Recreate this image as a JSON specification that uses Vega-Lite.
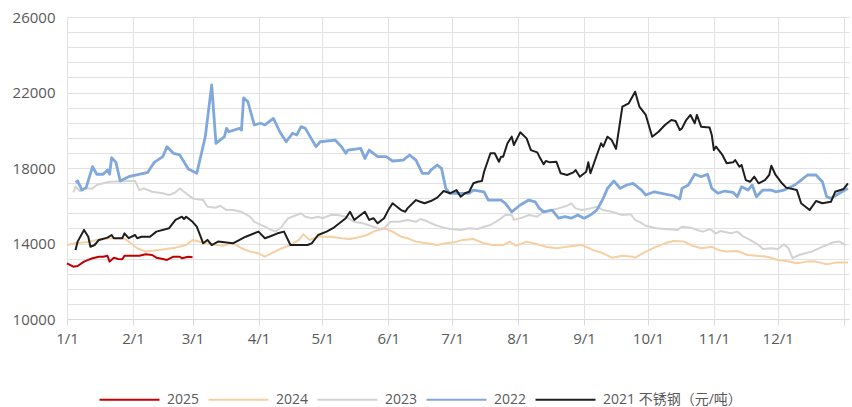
{
  "$schema": "https://vega.github.io/schema/vega-lite/v6.json",
  "width": 782,
  "height": 302,
  "autosize": {"type": "none"},
  "padding": {"left": 67, "top": 17, "right": 3, "bottom": 88},
  "background": "white",
  "config": {
    "view": {"stroke": null},
    "font": "Open Sans, Noto Sans CJK SC",
    "axis": {"labelColor": "#595959", "labelFontSize": 15, "labelFont": "Open Sans, Noto Sans CJK SC", "gridColor": "#e2e2e2", "gridWidth": 1, "title": null},
    "legend": {"labelColor": "#595959", "labelFontSize": 14, "labelFont": "Open Sans, Noto Sans CJK SC"}
  },
  "data": {"values": [
{"s":"2025","d":1,"v":12950},{"s":"2025","d":4,"v":12770},{"s":"2025","d":6,"v":12810},{"s":"2025","d":9,"v":13040},{"s":"2025","d":11,"v":13130},{"s":"2025","d":13,"v":13220},{"s":"2025","d":16,"v":13300},{"s":"2025","d":18,"v":13300},{"s":"2025","d":20,"v":13350},{"s":"2025","d":21,"v":13040},{"s":"2025","d":23,"v":13250},{"s":"2025","d":25,"v":13180},{"s":"2025","d":27,"v":13160},{"s":"2025","d":28,"v":13350},{"s":"2025","d":35,"v":13350},{"s":"2025","d":38,"v":13430},{"s":"2025","d":41,"v":13390},{"s":"2025","d":43,"v":13250},{"s":"2025","d":46,"v":13180},{"s":"2025","d":48,"v":13130},{"s":"2025","d":51,"v":13300},{"s":"2025","d":54,"v":13300},{"s":"2025","d":55,"v":13220},{"s":"2025","d":58,"v":13300},{"s":"2025","d":60,"v":13270},
{"s":"2024","d":1,"v":13920},{"s":"2024","d":5,"v":14010},{"s":"2024","d":10,"v":14060},{"s":"2024","d":15,"v":14190},{"s":"2024","d":21,"v":14280},{"s":"2024","d":27,"v":14280},{"s":"2024","d":29,"v":14190},{"s":"2024","d":31,"v":14010},{"s":"2024","d":34,"v":13750},{"s":"2024","d":38,"v":13570},{"s":"2024","d":44,"v":13660},{"s":"2024","d":52,"v":13780},{"s":"2024","d":57,"v":13920},{"s":"2024","d":60,"v":14190},{"s":"2024","d":62,"v":14130},{"s":"2024","d":66,"v":14010},{"s":"2024","d":69,"v":13960},{"s":"2024","d":74,"v":13880},{"s":"2024","d":79,"v":14010},{"s":"2024","d":83,"v":13750},{"s":"2024","d":87,"v":13570},{"s":"2024","d":91,"v":13480},{"s":"2024","d":94,"v":13300},{"s":"2024","d":97,"v":13480},{"s":"2024","d":102,"v":13750},{"s":"2024","d":106,"v":13920},{"s":"2024","d":110,"v":14190},{"s":"2024","d":112,"v":14490},{"s":"2024","d":115,"v":14190},{"s":"2024","d":119,"v":14360},{"s":"2024","d":125,"v":14360},{"s":"2024","d":130,"v":14280},{"s":"2024","d":134,"v":14240},{"s":"2024","d":139,"v":14360},{"s":"2024","d":142,"v":14450},{"s":"2024","d":145,"v":14630},{"s":"2024","d":149,"v":14770},{"s":"2024","d":151,"v":14770},{"s":"2024","d":154,"v":14630},{"s":"2024","d":158,"v":14360},{"s":"2024","d":161,"v":14280},{"s":"2024","d":165,"v":14100},{"s":"2024","d":170,"v":14010},{"s":"2024","d":175,"v":13920},{"s":"2024","d":179,"v":14010},{"s":"2024","d":183,"v":14060},{"s":"2024","d":187,"v":14190},{"s":"2024","d":192,"v":14240},{"s":"2024","d":197,"v":14010},{"s":"2024","d":201,"v":13920},{"s":"2024","d":206,"v":13920},{"s":"2024","d":209,"v":14100},{"s":"2024","d":212,"v":13880},{"s":"2024","d":217,"v":14100},{"s":"2024","d":222,"v":13960},{"s":"2024","d":226,"v":13830},{"s":"2024","d":231,"v":13750},{"s":"2024","d":236,"v":13830},{"s":"2024","d":240,"v":13880},{"s":"2024","d":243,"v":13920},{"s":"2024","d":248,"v":13660},{"s":"2024","d":253,"v":13480},{"s":"2024","d":257,"v":13250},{"s":"2024","d":262,"v":13350},{"s":"2024","d":267,"v":13300},{"s":"2024","d":268,"v":13250},{"s":"2024","d":273,"v":13570},{"s":"2024","d":278,"v":13830},{"s":"2024","d":282,"v":14010},{"s":"2024","d":286,"v":14130},{"s":"2024","d":291,"v":14100},{"s":"2024","d":295,"v":13880},{"s":"2024","d":299,"v":13750},{"s":"2024","d":304,"v":13830},{"s":"2024","d":307,"v":13660},{"s":"2024","d":311,"v":13570},{"s":"2024","d":316,"v":13600},{"s":"2024","d":321,"v":13390},{"s":"2024","d":325,"v":13350},{"s":"2024","d":330,"v":13300},{"s":"2024","d":335,"v":13130},{"s":"2024","d":339,"v":13070},{"s":"2024","d":344,"v":12950},{"s":"2024","d":349,"v":13040},{"s":"2024","d":353,"v":13040},{"s":"2024","d":358,"v":12900},{"s":"2024","d":363,"v":13000},{"s":"2024","d":368,"v":13000},
{"s":"2023","d":4,"v":16710},{"s":"2023","d":5,"v":17010},{"s":"2023","d":7,"v":16780},{"s":"2023","d":10,"v":16920},{"s":"2023","d":13,"v":16920},{"s":"2023","d":15,"v":17100},{"s":"2023","d":18,"v":17190},{"s":"2023","d":21,"v":17270},{"s":"2023","d":31,"v":17310},{"s":"2023","d":33,"v":17310},{"s":"2023","d":35,"v":16830},{"s":"2023","d":37,"v":16920},{"s":"2023","d":41,"v":16740},{"s":"2023","d":46,"v":16660},{"s":"2023","d":49,"v":16570},{"s":"2023","d":52,"v":16710},{"s":"2023","d":54,"v":16920},{"s":"2023","d":56,"v":16740},{"s":"2023","d":60,"v":16390},{"s":"2023","d":65,"v":16300},{"s":"2023","d":67,"v":15950},{"s":"2023","d":71,"v":15900},{"s":"2023","d":73,"v":16000},{"s":"2023","d":76,"v":15770},{"s":"2023","d":79,"v":15770},{"s":"2023","d":83,"v":15680},{"s":"2023","d":87,"v":15420},{"s":"2023","d":89,"v":15150},{"s":"2023","d":94,"v":14890},{"s":"2023","d":97,"v":14720},{"s":"2023","d":99,"v":14630},{"s":"2023","d":102,"v":14890},{"s":"2023","d":103,"v":15070},{"s":"2023","d":105,"v":15340},{"s":"2023","d":108,"v":15470},{"s":"2023","d":111,"v":15600},{"s":"2023","d":113,"v":15420},{"s":"2023","d":116,"v":15340},{"s":"2023","d":119,"v":15420},{"s":"2023","d":121,"v":15340},{"s":"2023","d":125,"v":15510},{"s":"2023","d":128,"v":15510},{"s":"2023","d":132,"v":15420},{"s":"2023","d":136,"v":15150},{"s":"2023","d":140,"v":15070},{"s":"2023","d":145,"v":14890},{"s":"2023","d":148,"v":14770},{"s":"2023","d":150,"v":14810},{"s":"2023","d":153,"v":15150},{"s":"2023","d":157,"v":15150},{"s":"2023","d":161,"v":15250},{"s":"2023","d":165,"v":15150},{"s":"2023","d":167,"v":15300},{"s":"2023","d":170,"v":15190},{"s":"2023","d":174,"v":14980},{"s":"2023","d":178,"v":14840},{"s":"2023","d":181,"v":14770},{"s":"2023","d":186,"v":14720},{"s":"2023","d":190,"v":14810},{"s":"2023","d":194,"v":14770},{"s":"2023","d":197,"v":14890},{"s":"2023","d":200,"v":14980},{"s":"2023","d":204,"v":15250},{"s":"2023","d":207,"v":15510},{"s":"2023","d":210,"v":15510},{"s":"2023","d":211,"v":15250},{"s":"2023","d":215,"v":15370},{"s":"2023","d":218,"v":15510},{"s":"2023","d":222,"v":15420},{"s":"2023","d":225,"v":15680},{"s":"2023","d":229,"v":15770},{"s":"2023","d":232,"v":15860},{"s":"2023","d":236,"v":16000},{"s":"2023","d":238,"v":16130},{"s":"2023","d":240,"v":15860},{"s":"2023","d":243,"v":15770},{"s":"2023","d":247,"v":15860},{"s":"2023","d":250,"v":15950},{"s":"2023","d":253,"v":15770},{"s":"2023","d":257,"v":15680},{"s":"2023","d":262,"v":15510},{"s":"2023","d":266,"v":15550},{"s":"2023","d":268,"v":15250},{"s":"2023","d":270,"v":15150},{"s":"2023","d":273,"v":14940},{"s":"2023","d":278,"v":14810},{"s":"2023","d":282,"v":14770},{"s":"2023","d":288,"v":14720},{"s":"2023","d":290,"v":14890},{"s":"2023","d":294,"v":14840},{"s":"2023","d":297,"v":14720},{"s":"2023","d":300,"v":14630},{"s":"2023","d":303,"v":14770},{"s":"2023","d":306,"v":14540},{"s":"2023","d":308,"v":14660},{"s":"2023","d":313,"v":14540},{"s":"2023","d":316,"v":14630},{"s":"2023","d":319,"v":14360},{"s":"2023","d":322,"v":14190},{"s":"2023","d":326,"v":13920},{"s":"2023","d":328,"v":13710},{"s":"2023","d":332,"v":13750},{"s":"2023","d":335,"v":13710},{"s":"2023","d":338,"v":13960},{"s":"2023","d":340,"v":13750},{"s":"2023","d":342,"v":13220},{"s":"2023","d":345,"v":13390},{"s":"2023","d":348,"v":13480},{"s":"2023","d":351,"v":13570},{"s":"2023","d":355,"v":13780},{"s":"2023","d":358,"v":13920},{"s":"2023","d":361,"v":14060},{"s":"2023","d":364,"v":14100},{"s":"2023","d":367,"v":13920},
{"s":"2022","d":5,"v":17240},{"s":"2022","d":6,"v":17310},{"s":"2022","d":8,"v":16830},{"s":"2022","d":10,"v":16960},{"s":"2022","d":13,"v":18070},{"s":"2022","d":15,"v":17670},{"s":"2022","d":18,"v":17670},{"s":"2022","d":20,"v":17890},{"s":"2022","d":21,"v":17670},{"s":"2022","d":22,"v":18550},{"s":"2022","d":24,"v":18300},{"s":"2022","d":26,"v":17310},{"s":"2022","d":30,"v":17540},{"s":"2022","d":39,"v":17770},{"s":"2022","d":42,"v":18300},{"s":"2022","d":46,"v":18600},{"s":"2022","d":48,"v":19130},{"s":"2022","d":51,"v":18780},{"s":"2022","d":54,"v":18690},{"s":"2022","d":58,"v":17950},{"s":"2022","d":62,"v":17720},{"s":"2022","d":66,"v":19660},{"s":"2022","d":69,"v":22400},{"s":"2022","d":71,"v":19310},{"s":"2022","d":75,"v":19660},{"s":"2022","d":76,"v":20100},{"s":"2022","d":77,"v":19920},{"s":"2022","d":82,"v":20100},{"s":"2022","d":83,"v":20010},{"s":"2022","d":84,"v":21720},{"s":"2022","d":86,"v":21510},{"s":"2022","d":89,"v":20280},{"s":"2022","d":92,"v":20370},{"s":"2022","d":94,"v":20280},{"s":"2022","d":98,"v":20630},{"s":"2022","d":101,"v":19920},{"s":"2022","d":104,"v":19390},{"s":"2022","d":107,"v":19840},{"s":"2022","d":109,"v":19750},{"s":"2022","d":111,"v":20190},{"s":"2022","d":113,"v":20100},{"s":"2022","d":118,"v":19130},{"s":"2022","d":120,"v":19390},{"s":"2022","d":127,"v":19480},{"s":"2022","d":130,"v":19130},{"s":"2022","d":132,"v":18780},{"s":"2022","d":133,"v":18950},{"s":"2022","d":139,"v":19040},{"s":"2022","d":141,"v":18510},{"s":"2022","d":143,"v":18950},{"s":"2022","d":147,"v":18600},{"s":"2022","d":151,"v":18600},{"s":"2022","d":154,"v":18370},{"s":"2022","d":159,"v":18420},{"s":"2022","d":162,"v":18690},{"s":"2022","d":165,"v":18420},{"s":"2022","d":168,"v":17720},{"s":"2022","d":171,"v":17720},{"s":"2022","d":172,"v":17890},{"s":"2022","d":175,"v":18160},{"s":"2022","d":177,"v":17980},{"s":"2022","d":179,"v":16920},{"s":"2022","d":181,"v":16660},{"s":"2022","d":190,"v":16660},{"s":"2022","d":192,"v":16830},{"s":"2022","d":197,"v":16740},{"s":"2022","d":199,"v":16300},{"s":"2022","d":205,"v":16300},{"s":"2022","d":207,"v":16130},{"s":"2022","d":210,"v":15680},{"s":"2022","d":214,"v":16040},{"s":"2022","d":218,"v":16300},{"s":"2022","d":221,"v":16210},{"s":"2022","d":223,"v":15860},{"s":"2022","d":225,"v":15680},{"s":"2022","d":229,"v":15770},{"s":"2022","d":232,"v":15340},{"s":"2022","d":235,"v":15420},{"s":"2022","d":238,"v":15340},{"s":"2022","d":241,"v":15510},{"s":"2022","d":244,"v":15340},{"s":"2022","d":247,"v":15510},{"s":"2022","d":250,"v":15770},{"s":"2022","d":253,"v":16390},{"s":"2022","d":255,"v":16920},{"s":"2022","d":258,"v":17310},{"s":"2022","d":261,"v":16920},{"s":"2022","d":264,"v":17100},{"s":"2022","d":267,"v":17190},{"s":"2022","d":271,"v":16830},{"s":"2022","d":273,"v":16570},{"s":"2022","d":277,"v":16740},{"s":"2022","d":286,"v":16530},{"s":"2022","d":289,"v":16360},{"s":"2022","d":290,"v":16920},{"s":"2022","d":293,"v":17100},{"s":"2022","d":296,"v":17670},{"s":"2022","d":299,"v":17540},{"s":"2022","d":302,"v":17670},{"s":"2022","d":304,"v":16920},{"s":"2022","d":307,"v":16660},{"s":"2022","d":310,"v":16780},{"s":"2022","d":314,"v":16710},{"s":"2022","d":316,"v":16480},{"s":"2022","d":318,"v":17010},{"s":"2022","d":321,"v":16830},{"s":"2022","d":323,"v":17100},{"s":"2022","d":325,"v":16480},{"s":"2022","d":328,"v":16830},{"s":"2022","d":332,"v":16830},{"s":"2022","d":334,"v":16740},{"s":"2022","d":338,"v":16830},{"s":"2022","d":343,"v":17100},{"s":"2022","d":346,"v":17360},{"s":"2022","d":349,"v":17630},{"s":"2022","d":353,"v":17630},{"s":"2022","d":356,"v":17270},{"s":"2022","d":358,"v":16480},{"s":"2022","d":360,"v":16390},{"s":"2022","d":364,"v":16660},{"s":"2022","d":368,"v":16920},
{"s":"2021","d":5,"v":13660},{"s":"2021","d":6,"v":14100},{"s":"2021","d":9,"v":14720},{"s":"2021","d":11,"v":14360},{"s":"2021","d":12,"v":13830},{"s":"2021","d":14,"v":13920},{"s":"2021","d":16,"v":14190},{"s":"2021","d":20,"v":14310},{"s":"2021","d":22,"v":14450},{"s":"2021","d":23,"v":14280},{"s":"2021","d":27,"v":14280},{"s":"2021","d":28,"v":14540},{"s":"2021","d":30,"v":14280},{"s":"2021","d":33,"v":14450},{"s":"2021","d":34,"v":14280},{"s":"2021","d":36,"v":14360},{"s":"2021","d":40,"v":14360},{"s":"2021","d":43,"v":14630},{"s":"2021","d":49,"v":14810},{"s":"2021","d":52,"v":15250},{"s":"2021","d":55,"v":15420},{"s":"2021","d":56,"v":15300},{"s":"2021","d":57,"v":15420},{"s":"2021","d":60,"v":15150},{"s":"2021","d":62,"v":14890},{"s":"2021","d":65,"v":14010},{"s":"2021","d":67,"v":14190},{"s":"2021","d":69,"v":13920},{"s":"2021","d":72,"v":14100},{"s":"2021","d":79,"v":14010},{"s":"2021","d":85,"v":14360},{"s":"2021","d":91,"v":14630},{"s":"2021","d":94,"v":14280},{"s":"2021","d":96,"v":14360},{"s":"2021","d":100,"v":14540},{"s":"2021","d":103,"v":14630},{"s":"2021","d":106,"v":13920},{"s":"2021","d":114,"v":13920},{"s":"2021","d":116,"v":14010},{"s":"2021","d":119,"v":14450},{"s":"2021","d":123,"v":14630},{"s":"2021","d":126,"v":14810},{"s":"2021","d":129,"v":15070},{"s":"2021","d":132,"v":15340},{"s":"2021","d":134,"v":15680},{"s":"2021","d":136,"v":15250},{"s":"2021","d":137,"v":15340},{"s":"2021","d":139,"v":15510},{"s":"2021","d":141,"v":15680},{"s":"2021","d":143,"v":15250},{"s":"2021","d":145,"v":15340},{"s":"2021","d":147,"v":15070},{"s":"2021","d":150,"v":15340},{"s":"2021","d":152,"v":15770},{"s":"2021","d":154,"v":16130},{"s":"2021","d":158,"v":15770},{"s":"2021","d":160,"v":15680},{"s":"2021","d":161,"v":15860},{"s":"2021","d":165,"v":16300},{"s":"2021","d":167,"v":16210},{"s":"2021","d":169,"v":16130},{"s":"2021","d":172,"v":16250},{"s":"2021","d":175,"v":16430},{"s":"2021","d":178,"v":16780},{"s":"2021","d":181,"v":16660},{"s":"2021","d":184,"v":16830},{"s":"2021","d":186,"v":16480},{"s":"2021","d":188,"v":16660},{"s":"2021","d":190,"v":16740},{"s":"2021","d":192,"v":17190},{"s":"2021","d":194,"v":17270},{"s":"2021","d":196,"v":17310},{"s":"2021","d":197,"v":17800},{"s":"2021","d":200,"v":18780},{"s":"2021","d":202,"v":18780},{"s":"2021","d":204,"v":18330},{"s":"2021","d":205,"v":18600},{"s":"2021","d":206,"v":18600},{"s":"2021","d":208,"v":19310},{"s":"2021","d":210,"v":19660},{"s":"2021","d":211,"v":19220},{"s":"2021","d":214,"v":19890},{"s":"2021","d":217,"v":19570},{"s":"2021","d":219,"v":18950},{"s":"2021","d":222,"v":18830},{"s":"2021","d":223,"v":18600},{"s":"2021","d":225,"v":18200},{"s":"2021","d":226,"v":18370},{"s":"2021","d":228,"v":18300},{"s":"2021","d":231,"v":18330},{"s":"2021","d":233,"v":17720},{"s":"2021","d":236,"v":17630},{"s":"2021","d":239,"v":17770},{"s":"2021","d":240,"v":17890},{"s":"2021","d":242,"v":17540},{"s":"2021","d":245,"v":17800},{"s":"2021","d":246,"v":18300},{"s":"2021","d":247,"v":17720},{"s":"2021","d":250,"v":18690},{"s":"2021","d":252,"v":19310},{"s":"2021","d":253,"v":19130},{"s":"2021","d":255,"v":19660},{"s":"2021","d":257,"v":19480},{"s":"2021","d":259,"v":19010},{"s":"2021","d":262,"v":21250},{"s":"2021","d":265,"v":21430},{"s":"2021","d":268,"v":22040},{"s":"2021","d":270,"v":21250},{"s":"2021","d":273,"v":20810},{"s":"2021","d":276,"v":19660},{"s":"2021","d":279,"v":19920},{"s":"2021","d":282,"v":20280},{"s":"2021","d":285,"v":20540},{"s":"2021","d":287,"v":20490},{"s":"2021","d":289,"v":20010},{"s":"2021","d":290,"v":20100},{"s":"2021","d":292,"v":20540},{"s":"2021","d":294,"v":20810},{"s":"2021","d":296,"v":20370},{"s":"2021","d":297,"v":20810},{"s":"2021","d":299,"v":20190},{"s":"2021","d":303,"v":20140},{"s":"2021","d":304,"v":19750},{"s":"2021","d":305,"v":18950},{"s":"2021","d":306,"v":19130},{"s":"2021","d":309,"v":18690},{"s":"2021","d":311,"v":18250},{"s":"2021","d":314,"v":18300},{"s":"2021","d":315,"v":18420},{"s":"2021","d":317,"v":18070},{"s":"2021","d":318,"v":18160},{"s":"2021","d":320,"v":17360},{"s":"2021","d":322,"v":17270},{"s":"2021","d":324,"v":17540},{"s":"2021","d":326,"v":17190},{"s":"2021","d":329,"v":17360},{"s":"2021","d":331,"v":17630},{"s":"2021","d":332,"v":18120},{"s":"2021","d":334,"v":17630},{"s":"2021","d":337,"v":17190},{"s":"2021","d":339,"v":16960},{"s":"2021","d":344,"v":16830},{"s":"2021","d":346,"v":16130},{"s":"2021","d":350,"v":15770},{"s":"2021","d":353,"v":16250},{"s":"2021","d":356,"v":16130},{"s":"2021","d":360,"v":16210},{"s":"2021","d":362,"v":16740},{"s":"2021","d":366,"v":16890},{"s":"2021","d":368,"v":17190}
  ]},
  "mark": {"type": "line", "strokeJoin": "round", "strokeCap": "butt", "interpolate": "linear"},
  "encoding": {
    "x": {
      "field": "d", "type": "quantitative",
      "scale": {"domain": [1, 368.5], "nice": false, "zero": false},
      "axis": {
        "values": [1, 32, 60, 91, 121, 152, 182, 213, 244, 274, 305, 335, 366],
        "labelExpr": "['1/1','2/1','3/1','4/1','5/1','6/1','7/1','8/1','9/1','10/1','11/1','12/1',''][indexof([1,32,60,91,121,152,182,213,244,274,305,335,366], datum.value)]",
        "grid": true, "domain": true, "domainColor": "#d9d9d9", "ticks": true, "tickColor": "#d9d9d9", "tickSize": 6,
        "labelPadding": 6, "labelFlush": false, "labelOverlap": false
      }
    },
    "y": {
      "field": "v", "type": "quantitative",
      "scale": {"domain": [10000, 26000], "nice": false, "zero": false},
      "axis": {
        "values": [10000, 10800, 11600, 12400, 13200, 14000, 14800, 15600, 16400, 17200, 18000, 18800, 19600, 20400, 21200, 22000, 22800, 23600, 24400, 25200, 26000],
        "labelExpr": "(datum.value - 10000) % 4000 == 0 ? '' + datum.value : ''",
        "grid": true, "domain": false, "ticks": false, "labelPadding": 12, "labelOverlap": false
      }
    },
    "color": {
      "field": "s", "type": "nominal",
      "scale": {"domain": ["2025", "2024", "2023", "2022", "2021"], "range": ["#C00000", "#F6CFA2", "#D3D3D3", "#80A8DC", "#1E1E1E"]},
      "legend": {
        "orient": "none", "legendX": 31, "legendY": 351, "direction": "horizontal", "title": null,
        "symbolType": "stroke", "symbolSize": 3600, "symbolStrokeWidth": 2.2,
        "labelOffset": 6, "columnPadding": 4, "padding": 0,
        "labelExpr": "datum.label == '2021' ? '2021 不锈钢（元/吨）' : datum.label"
      }
    },
    "strokeWidth": {
      "condition": {"test": "datum.s == '2022'", "value": 2.8},
      "value": 2
    }
  }
}
